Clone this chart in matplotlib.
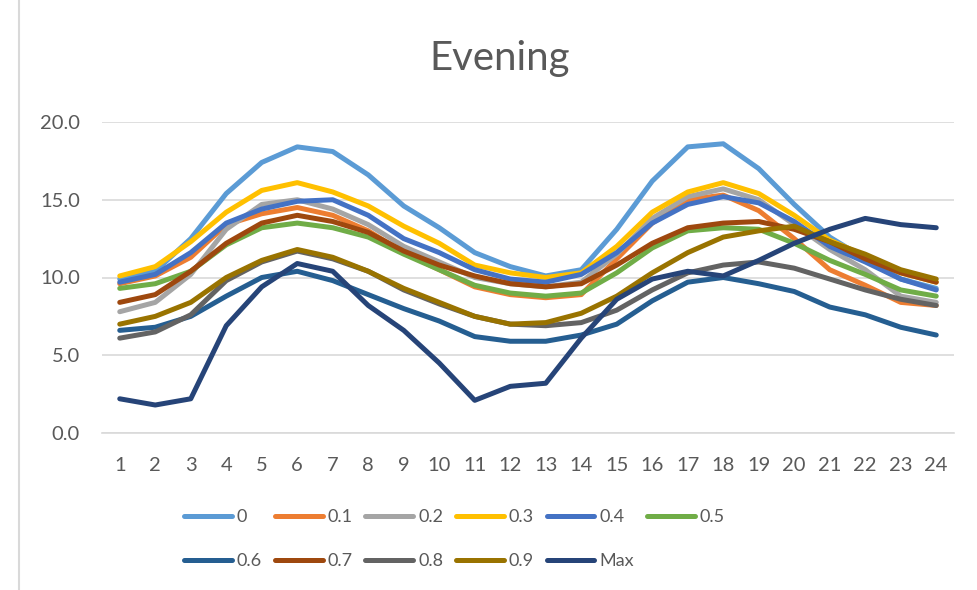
# %%

import matplotlib
matplotlib.use("Agg")
import matplotlib.pyplot as plt
from matplotlib.lines import Line2D

# %%

hours = list(range(1, 25))

s_0 = [9.9, 10.4, 12.5, 15.4, 17.4, 18.4, 18.1, 16.6, 14.6, 13.2, 11.6, 10.7,
       10.1, 10.5, 13.1, 16.2, 18.4, 18.6, 17.0, 14.7, 12.6, 11.2, 9.9, 9.3]
s_01 = [9.6, 10.1, 11.3, 13.4, 14.1, 14.5, 14.0, 13.0, 11.6, 10.5, 9.4, 8.9,
        8.7, 8.9, 11.2, 13.5, 15.0, 15.3, 14.3, 12.5, 10.5, 9.5, 8.4, 8.2]
s_02 = [7.8, 8.4, 10.2, 13.1, 14.7, 15.0, 14.4, 13.4, 12.0, 11.0, 10.0, 9.6,
        9.4, 9.7, 11.5, 13.8, 15.2, 15.7, 15.0, 13.4, 11.8, 10.5, 8.8, 8.4]
s_03 = [10.1, 10.7, 12.3, 14.2, 15.6, 16.1, 15.5, 14.6, 13.3, 12.2, 10.8, 10.3,
        10.0, 10.3, 12.0, 14.2, 15.5, 16.1, 15.4, 14.0, 12.4, 11.4, 10.3, 9.7]
s_04 = [9.7, 10.2, 11.6, 13.5, 14.4, 14.9, 15.0, 14.0, 12.5, 11.6, 10.5, 9.9,
        9.7, 10.2, 11.6, 13.5, 14.7, 15.2, 14.8, 13.6, 12.0, 11.0, 9.9, 9.2]
s_05 = [9.3, 9.6, 10.4, 12.1, 13.2, 13.5, 13.2, 12.6, 11.5, 10.5, 9.5, 9.0,
        8.8, 9.0, 10.3, 11.9, 13.0, 13.2, 13.1, 12.2, 11.1, 10.2, 9.2, 8.8]
s_06 = [6.6, 6.8, 7.5, 8.8, 10.0, 10.4, 9.8, 8.9, 8.0, 7.2, 6.2, 5.9,
        5.9, 6.3, 7.0, 8.5, 9.7, 10.0, 9.6, 9.1, 8.1, 7.6, 6.8, 6.3]
s_07 = [8.4, 8.9, 10.4, 12.2, 13.5, 14.0, 13.6, 12.9, 11.7, 10.8, 10.1, 9.6,
        9.4, 9.6, 10.8, 12.2, 13.2, 13.5, 13.6, 13.1, 12.3, 11.2, 10.3, 9.7]
s_08 = [6.1, 6.5, 7.6, 9.8, 11.0, 11.7, 11.2, 10.4, 9.2, 8.3, 7.5, 7.0,
        6.9, 7.1, 7.9, 9.2, 10.3, 10.8, 11.0, 10.6, 9.9, 9.2, 8.6, 8.2]
s_09 = [7.0, 7.5, 8.4, 10.0, 11.1, 11.8, 11.3, 10.4, 9.3, 8.4, 7.5, 7.0,
        7.1, 7.7, 8.8, 10.3, 11.6, 12.6, 13.0, 13.3, 12.3, 11.5, 10.5, 9.9]
s_max = [2.2, 1.8, 2.2, 6.9, 9.4, 10.9, 10.4, 8.2, 6.6, 4.5, 2.1, 3.0,
         3.2, 6.1, 8.6, 9.9, 10.4, 10.1, 11.1, 12.2, 13.1, 13.8, 13.4, 13.2]

series_names = ["0", "0.1", "0.2", "0.3", "0.4", "0.5", "0.6", "0.7", "0.8", "0.9", "Max"]
series_vals = [s_0, s_01, s_02, s_03, s_04, s_05, s_06, s_07, s_08, s_09, s_max]
colors = ["#5B9BD5", "#ED7D31", "#A5A5A5", "#FFC000", "#4472C4", "#70AD47",
          "#255E91", "#9E480E", "#636363", "#997300", "#264478"]

y_ticks = [0, 5, 10, 15, 20]

# %%

plt.rcParams["font.family"] = ["Lato", "DejaVu Sans"]
txt_color = "#595959"

fig = plt.figure(figsize=(9.78, 5.90), dpi=100)
ax = fig.add_axes([102 / 978, 1 - 433 / 590, 852 / 978, 311 / 590])

x_pos = list(range(len(hours)))
lines = []
for vals, name, c in zip(series_vals, series_names, colors):
    (ln,) = ax.plot(x_pos, vals, color=c, lw=3.6, label=name, solid_capstyle="round")
    lines.append(ln)

ax.set_xlim(-0.5, len(hours) - 0.5)
ax.set_ylim(0, 20)
ax.set_xticks(x_pos)
ax.set_xticklabels([str(h) for h in hours])
ax.set_yticks(y_ticks)
ax.set_yticklabels([f"{v:.1f}" for v in y_ticks])
ax.tick_params(axis="x", length=0, pad=17, labelsize=14.5, labelcolor=txt_color)
ax.tick_params(axis="y", length=0, pad=16, labelsize=14.5, labelcolor=txt_color)
ax.grid(axis="y", color="#D9D9D9", lw=1.2)
ax.set_axisbelow(True)
for sp in ["top", "right", "left"]:
    ax.spines[sp].set_visible(False)
ax.spines["bottom"].set_color("#D9D9D9")
ax.spines["bottom"].set_linewidth(1.2)

fig.text(500 / 978, 1 - 70 / 590, "Evening", ha="center", va="baseline",
         fontsize=29, color=txt_color)

# legend laid out row by row like Excel (6 per row)
order = [0, 6, 1, 7, 2, 8, 3, 9, 4, 10, 5]
leg = fig.legend([lines[i] for i in order], [series_names[i] for i in order],
                 ncol=6, loc="upper left", bbox_to_anchor=(184 / 978, 1 - 509 / 590),
                 frameon=False, fontsize=13, handlelength=2.65, handletextpad=0.28,
                 columnspacing=0.7, labelspacing=1.55, borderpad=0, borderaxespad=0)
for t in leg.get_texts():
    t.set_color(txt_color)

# chart area border on the left
fig.add_artist(Line2D([19 / 978, 19 / 978], [0, 1], color="#D9D9D9", lw=1.5,
                      transform=fig.transFigure))

plt.savefig("out.png", dpi=100)
